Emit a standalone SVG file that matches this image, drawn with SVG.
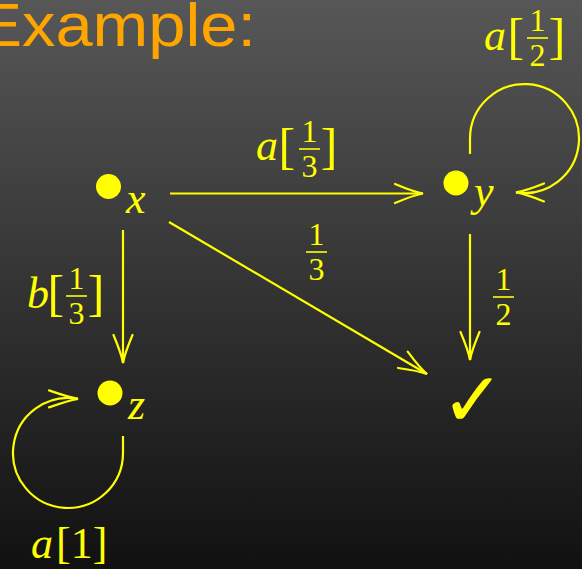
<svg xmlns="http://www.w3.org/2000/svg" width="582" height="569" viewBox="0 0 582 569">
  <defs>
    <linearGradient id="bg" x1="0" y1="0" x2="0" y2="1">
      <stop offset="0" stop-color="#575757"/>
      <stop offset="1" stop-color="#111111"/>
    </linearGradient>
    <marker id="to" viewBox="-32 -12 36 24" refX="0" refY="0" markerWidth="36" markerHeight="24" markerUnits="userSpaceOnUse" orient="auto" overflow="visible">
      <path d="M-28,-9.5 Q-9,-1.5 0,0 Q-9,1.5 -28,9.5" fill="none" stroke="#FFFF00" stroke-width="2.2" stroke-linecap="round"/>
    </marker>
    <marker id="toR" viewBox="-32 -12 36 24" refX="0" refY="0" markerWidth="36" markerHeight="24" markerUnits="userSpaceOnUse" orient="0" overflow="visible">
      <path d="M-29,-8.5 Q-9,-1.5 0,0 Q-9,1.5 -29,8.5" fill="none" stroke="#FFFF00" stroke-width="2.2" stroke-linecap="round"/>
    </marker>
    <marker id="toL" viewBox="-32 -12 36 24" refX="0" refY="0" markerWidth="36" markerHeight="24" markerUnits="userSpaceOnUse" orient="180" overflow="visible">
      <path d="M-28,-9 Q-9,-1.5 0,0 Q-9,1.5 -28,9" fill="none" stroke="#FFFF00" stroke-width="2.2" stroke-linecap="round"/>
    </marker>
    <style>
      .edge { fill: none; stroke: #FFFF00; stroke-width: 2.2; marker-end: url(#to); }
      .loopy { marker-end: url(#toL); }
      .loopz { marker-end: url(#toR); }
      .dot { fill: #FFFF00; }
      .m { font-family: "Liberation Serif", "Times New Roman", serif; font-style: italic; font-size: 44px; fill: #FFFF00; }
      .br { font-family: "Liberation Serif", "Times New Roman", serif; font-size: 50px; fill: #FFFF00; }
      .fr { font-family: "Liberation Serif", "Times New Roman", serif; font-size: 32px; fill: #FFFF00; text-anchor: middle; }
      .bar { stroke: #FFFF00; stroke-width: 1.6; }
      .title { font-family: "Liberation Sans", Arial, sans-serif; font-size: 61px; fill: #FFA500; }
    </style>
  </defs>
  <rect x="0" y="0" width="582" height="569" fill="url(#bg)"/>
  <text class="title" x="-22.6" y="45.5" textLength="278.7" lengthAdjust="spacingAndGlyphs">Example:</text>

  <g id="connectors">
    <line class="edge" x1="170" y1="193.5" x2="423" y2="193.5"/>
    <line class="edge" x1="123" y1="230" x2="123" y2="363"/>
    <line class="edge" x1="470" y1="234" x2="470" y2="360"/>
    <line class="edge" x1="169" y1="222" x2="427" y2="374"/>
    <path class="edge loopy" d="M470,154 L470,138 A54.5,54.5 0 1 1 516,192.4"/>
    <path class="edge loopz" d="M123,436 L123,453 A55,55 0 1 1 78,398.9"/>
  </g>

  <g id="label-xy">
    <text class="m" x="256" y="160">a</text>
    <text class="br" x="278.6" y="163">[</text>
    <text class="fr" x="309.5" y="142">1</text>
    <line class="bar" x1="299" y1="149" x2="320" y2="149"/>
    <text class="fr" x="309.5" y="177">3</text>
    <text class="br" x="320.8" y="163">]</text>
  </g>
  <g id="label-yy">
    <text class="m" x="484" y="50">a</text>
    <text class="br" x="507.6" y="53">[</text>
    <text class="fr" x="537.5" y="31">1</text>
    <line class="bar" x1="527" y1="38" x2="548" y2="38"/>
    <text class="fr" x="537.5" y="66">2</text>
    <text class="br" x="548.8" y="53">]</text>
  </g>
  <g id="label-xz">
    <text class="m" x="27" y="308">b</text>
    <text class="br" x="47.6" y="310">[</text>
    <text class="fr" x="76.5" y="289">1</text>
    <line class="bar" x1="66" y1="296" x2="87" y2="296"/>
    <text class="fr" x="76.5" y="324">3</text>
    <text class="br" x="87.8" y="310">]</text>
  </g>
  <g id="label-xcheck">
    <text class="fr" x="316.5" y="245">1</text>
    <line class="bar" x1="306" y1="252" x2="327" y2="252"/>
    <text class="fr" x="316.5" y="280">3</text>
  </g>
  <g id="label-ycheck">
    <text class="fr" x="503.5" y="290">1</text>
    <line class="bar" x1="493" y1="297" x2="514" y2="297"/>
    <text class="fr" x="503.5" y="325">2</text>
  </g>
  <g id="label-zz">
    <text class="br" x="31" y="558" style="font-size:44px"><tspan style="font-style:italic">a</tspan><tspan x="56">[</tspan><tspan x="70.8">1</tspan><tspan x="92.8">]</tspan></text>
  </g>

  <g id="node-x">
    <circle class="dot" cx="108.5" cy="186.5" r="12.5"/>
    <text class="m" x="126" y="213">x</text>
  </g>
  <g id="node-y">
    <circle class="dot" cx="456" cy="183" r="12.5"/>
    <text class="m" x="474" y="206">y</text>
  </g>
  <g id="node-z">
    <circle class="dot" cx="110" cy="393" r="12.5"/>
    <text class="m" x="128" y="419">z</text>
  </g>
  <g id="node-check">
    <text x="441" y="426" style="font-family:'DejaVu Sans', sans-serif; font-size:76px; font-weight:bold; fill:#FFFF00">✓</text>
  </g>
</svg>
